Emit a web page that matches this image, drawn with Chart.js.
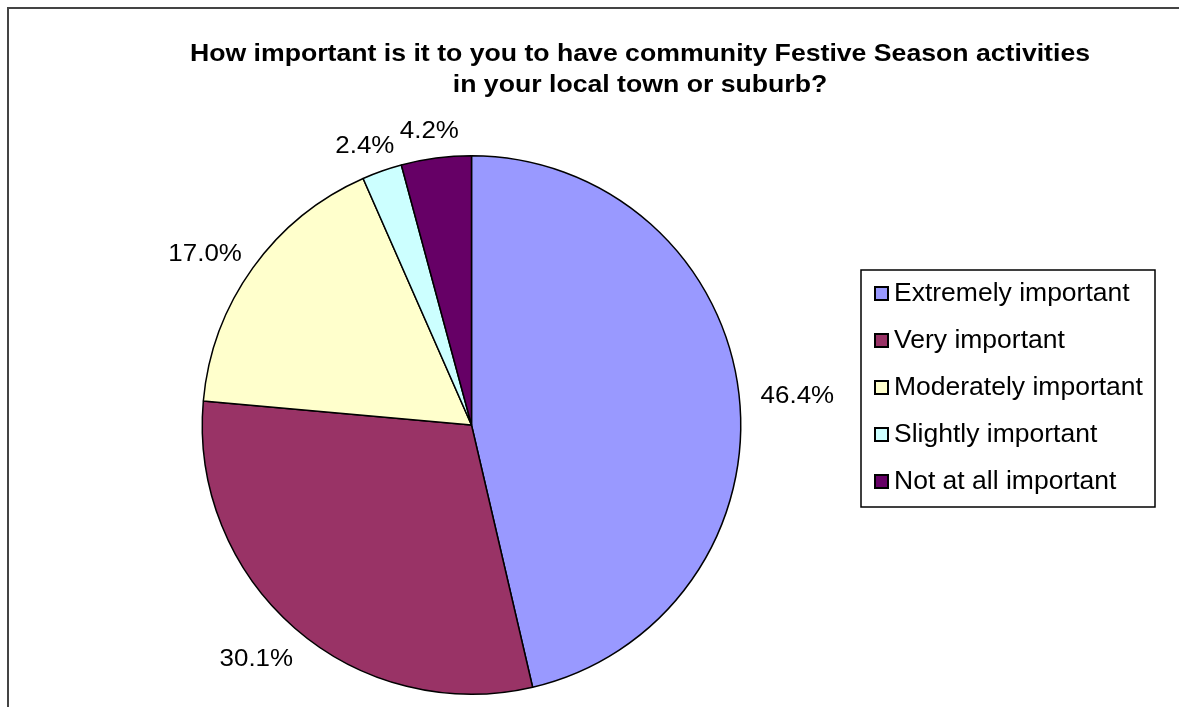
<!DOCTYPE html>
<html lang="en">
<head>
  <meta charset="UTF-8">
  <title>Festive Season activities</title>
  <script src="https://cdn.jsdelivr.net/npm/chart.js"></script>
  <style>
    html, body { margin: 0; padding: 0; background: #fff; }
    canvas { display: block; }
  </style>
</head>
<body>
  <canvas id="pieChart" width="1179" height="707"></canvas>

  <script>
    // Survey answers and their shares (%)
    const answers = ['Extremely important', 'Very important', 'Moderately important', 'Slightly important', 'Not at all important'];
    const shares = [46.4, 30.1, 17.0, 2.4, 4.2];
    const sliceColors = ['#9999FF', '#993366', '#FFFFCC', '#CCFFFF', '#660066'];
    const titleLines = ['How important is it to you to have community Festive Season activities', 'in your local town or suburb?'];

    const FONT = '"Liberation Sans", Arial, sans-serif';

    // text drawn slightly widened, like the old office fonts
    function wideText(ctx, text, x, y, sx) {
      ctx.save();
      ctx.translate(x, y);
      ctx.scale(sx, 1);
      ctx.fillText(text, 0, 0);
      ctx.restore();
    }

    // Frame, title and boxed legend drawn straight onto the canvas
    const decorations = {
      id: 'decorations',
      beforeDraw(chart) {
        const ctx = chart.ctx;
        ctx.save();
        ctx.fillStyle = '#fff';
        ctx.fillRect(0, 0, chart.width, chart.height);
        ctx.strokeStyle = '#444';
        ctx.lineWidth = 2;
        ctx.beginPath();
        ctx.moveTo(8, chart.height);
        ctx.lineTo(8, 8);
        ctx.lineTo(chart.width, 8);
        ctx.stroke();

        ctx.fillStyle = '#000';
        ctx.font = 'bold 24px ' + FONT;
        ctx.textAlign = 'center';
        ctx.textBaseline = 'middle';
        titleLines.forEach((line, i) => wideText(ctx, line, 640, 54 + i * 31, 1.11));
        ctx.restore();
      },
      afterDraw(chart) {
        const ctx = chart.ctx;
        ctx.save();
        // legend box
        ctx.strokeStyle = '#000';
        ctx.lineWidth = 1.5;
        ctx.strokeRect(861, 270, 294, 237);
        ctx.font = '25px ' + FONT;
        ctx.textAlign = 'left';
        ctx.textBaseline = 'middle';
        answers.forEach((name, i) => {
          const y = 293 + i * 47;
          ctx.fillStyle = sliceColors[i];
          ctx.fillRect(875, y - 6, 13, 13);
          ctx.lineWidth = 2;
          ctx.strokeRect(875, y - 6, 13, 13);
          ctx.fillStyle = '#000';
          wideText(ctx, name, 894, y + 1, 1.06);
        });
        ctx.restore();
      }
    };

    // Percentage labels placed just outside each slice
    const outsideLabels = {
      id: 'outsideLabels',
      afterDatasetsDraw(chart) {
        const ctx = chart.ctx;
        const meta = chart.getDatasetMeta(0);
        const sx = 1.08;
        ctx.save();
        ctx.font = '24px ' + FONT;
        ctx.fillStyle = '#000';
        ctx.textAlign = 'center';
        ctx.textBaseline = 'middle';
        meta.data.forEach((arc, i) => {
          const p = arc.getProps(['x', 'y', 'startAngle', 'endAngle', 'outerRadius'], true);
          const mid = (p.startAngle + p.endAngle) / 2;
          const text = chart.data.datasets[0].data[i].toFixed(1) + '%';
          const w = ctx.measureText(text).width * sx;
          const h = 22;
          const dist = p.outerRadius + 22;
          const cx = p.x + Math.cos(mid) * dist + Math.cos(mid) * w / 2;
          const cy = p.y + Math.sin(mid) * dist + Math.sin(mid) * h / 2 + 6;
          wideText(ctx, text, cx, cy, sx);
        });
        ctx.restore();
      }
    };

    const ctx = document.getElementById('pieChart').getContext('2d');
    new Chart(ctx, {
      type: 'pie',
      data: {
        labels: answers,
        datasets: [{
          data: shares,
          backgroundColor: sliceColors,
          borderColor: '#000',
          borderWidth: 1.5
        }]
      },
      options: {
        responsive: false,
        animation: false,
        layout: {
          padding: { left: 201, right: 437, top: 155, bottom: 12 }
        },
        plugins: {
          legend: { display: false },
          title: { display: false },
          tooltip: { enabled: false }
        }
      },
      plugins: [decorations, outsideLabels]
    });
  </script>
</body>
</html>
